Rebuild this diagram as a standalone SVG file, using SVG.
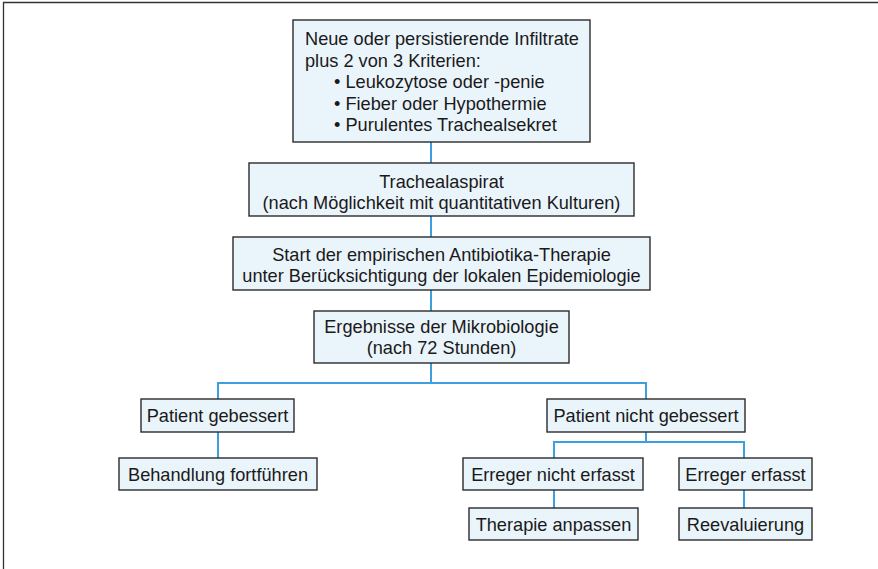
<svg xmlns="http://www.w3.org/2000/svg" width="878" height="569" viewBox="0 0 878 569">
<style>
.box{fill:#eaf4fb;stroke:#2b2b2b;stroke-width:1.4}
.t{font-family:"Liberation Sans",Arial,sans-serif;font-size:18.2px;fill:#1a1a1a}
.c{text-anchor:middle}
.conn{fill:none;stroke:#3d9fe0;stroke-width:2}
</style>
<rect width="878" height="569" fill="#ffffff"/>
<path d="M3.5,569 V2.5 H878" fill="none" stroke="#333" stroke-width="1.3"/>
<g id="connectors">
<path class="conn" d="M431,142 V311"/>
<path class="conn" d="M431,363 V383 M218,399 V383 H646 V399"/>
<path class="conn" d="M218,432 V458"/>
<path class="conn" d="M646,432 V442 M554,458 V442 H744 V458"/>
<path class="conn" d="M554,490 V508"/>
<path class="conn" d="M744,490 V508"/>
</g>
<g id="n1">
<rect class="box" x="293" y="20" width="297" height="122"/>
<text class="t" x="305" y="45">Neue oder persistierende Infiltrate</text>
<text class="t" x="305" y="66.5">plus 2 von 3 Kriterien:</text>
<text class="t" x="334" y="88">• Leukozytose oder -penie</text>
<text class="t" x="334" y="109.5">• Fieber oder Hypothermie</text>
<text class="t" x="334" y="131">• Purulentes Trachealsekret</text>
</g>
<g id="n2">
<rect class="box" x="249" y="163" width="385" height="53"/>
<text class="t c" x="441.5" y="188">Trachealaspirat</text>
<text class="t c" x="441.5" y="208.5">(nach Möglichkeit mit quantitativen Kulturen)</text>
</g>
<g id="n3">
<rect class="box" x="233" y="237" width="417" height="53"/>
<text class="t c" x="441.5" y="261">Start der empirischen Antibiotika-Therapie</text>
<text class="t c" x="441.5" y="281.5">unter Berücksichtigung der lokalen Epidemiologie</text>
</g>
<g id="n4">
<rect class="box" x="314" y="311" width="255" height="52"/>
<text class="t c" x="441.5" y="333">Ergebnisse der Mikrobiologie</text>
<text class="t c" x="441.5" y="354">(nach 72 Stunden)</text>
</g>
<g id="n5">
<rect class="box" x="141" y="399" width="153" height="33"/>
<text class="t c" x="217.5" y="421.5">Patient gebessert</text>
</g>
<g id="n6">
<rect class="box" x="119" y="458" width="198" height="32"/>
<text class="t c" x="218" y="480.5">Behandlung fortführen</text>
</g>
<g id="n7">
<rect class="box" x="547" y="399" width="198" height="33"/>
<text class="t c" x="646" y="421.5">Patient nicht gebessert</text>
</g>
<g id="n8">
<rect class="box" x="463" y="458" width="180" height="32"/>
<text class="t c" x="553" y="480.5">Erreger nicht erfasst</text>
</g>
<g id="n9">
<rect class="box" x="679" y="458" width="133" height="32"/>
<text class="t c" x="745.5" y="480.5">Erreger erfasst</text>
</g>
<g id="n10">
<rect class="box" x="469" y="508" width="169" height="32"/>
<text class="t c" x="553.5" y="530.5">Therapie anpassen</text>
</g>
<g id="n11">
<rect class="box" x="679" y="508" width="133" height="32"/>
<text class="t c" x="745.5" y="530.5">Reevaluierung</text>
</g>
</svg>
